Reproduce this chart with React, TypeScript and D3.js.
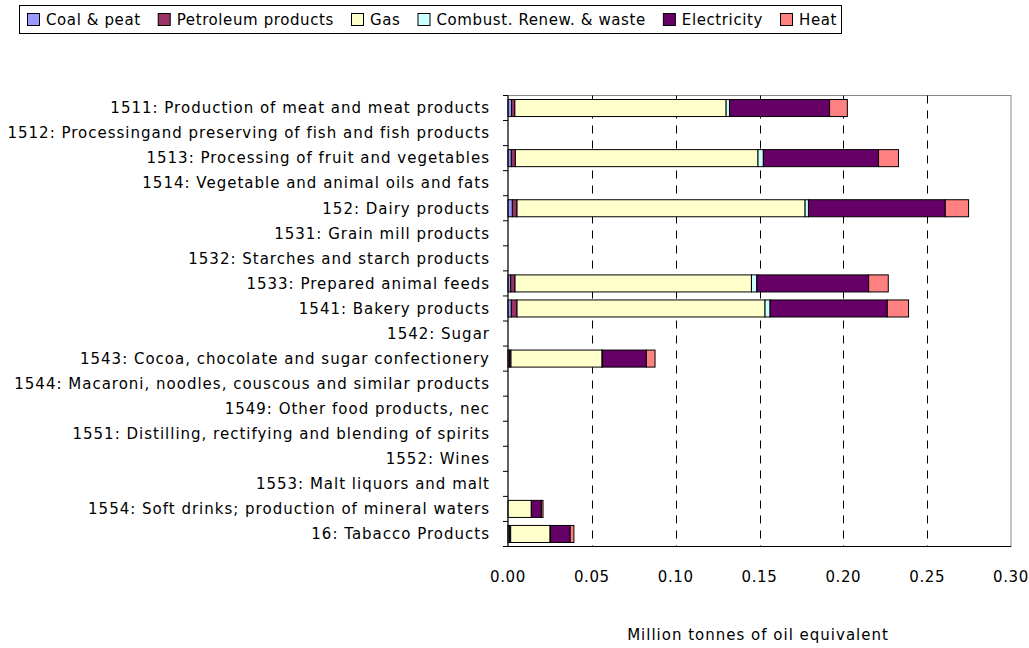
import { useEffect, useRef } from 'react'
import * as d3 from 'd3'

const categories = [
  '1511: Production of meat and meat products',
  '1512: Processingand preserving of fish and fish products',
  '1513: Processing of fruit and vegetables',
  '1514: Vegetable and animal oils and fats',
  '152: Dairy products',
  '1531: Grain mill products',
  '1532: Starches and starch products',
  '1533: Prepared animal feeds',
  '1541: Bakery products',
  '1542: Sugar',
  '1543: Cocoa, chocolate and sugar confectionery',
  '1544: Macaroni, noodles, couscous and similar products',
  '1549: Other food products, nec',
  '1551: Distilling, rectifying and blending of spirits',
  '1552: Wines',
  '1553: Malt liquors and malt',
  '1554: Soft drinks; production of mineral waters',
  '16: Tabacco Products',
]

const coal = [0.0021, 0, 0.002, 0, 0.0026, 0, 0, 0.0016, 0.002, 0, 0.0008, 0, 0, 0, 0, 0, 0, 0.0008]
const petroleum = [0.002, 0, 0.0024, 0, 0.0028, 0, 0, 0.0026, 0.0034, 0, 0.001, 0, 0, 0, 0, 0, 0, 0.0008]
const gas = [0.126, 0, 0.1447, 0, 0.1718, 0, 0, 0.141, 0.1479, 0, 0.0543, 0, 0, 0, 0, 0, 0.0139, 0.0235]
const combust = [0.002, 0, 0.0032, 0, 0.002, 0, 0, 0.0032, 0.003, 0, 0.0003, 0, 0, 0, 0, 0, 0, 0.0003]
const electricity = [0.0597, 0, 0.0687, 0, 0.0816, 0, 0, 0.0667, 0.0699, 0, 0.0261, 0, 0, 0, 0, 0, 0.006, 0.0117]
const heat = [0.0106, 0, 0.0119, 0, 0.0139, 0, 0, 0.0117, 0.0127, 0, 0.0052, 0, 0, 0, 0, 0, 0.001, 0.0022]

const seriesNames = ['Coal & peat', 'Petroleum products', 'Gas', 'Combust. Renew. & waste', 'Electricity', 'Heat']
const seriesColors = ['#9999FF', '#993366', '#FFFFCC', '#CCFFFF', '#660066', '#FF8080']
const xTicks = [0, 0.05, 0.1, 0.15, 0.2, 0.25, 0.3]

const FONT = '"DejaVu Sans", sans-serif'

export default function App() {
  const svgRef = useRef<SVGSVGElement>(null)

  useEffect(() => {
    if (!svgRef.current) return
    const svg = d3.select(svgRef.current)
    svg.selectAll('*').remove()

    const plot = { left: 508, right: 1011, top: 95.5, bottom: 546.5 }
    const series = [coal, petroleum, gas, combust, electricity, heat]

    const x = d3.scaleLinear().domain([0, 0.3]).range([plot.left, plot.right])
    const y = d3.scaleBand<string>().domain(categories).range([plot.top, plot.bottom]).paddingInner(0).paddingOuter(0)
    const barH = y.bandwidth() * 0.68

    // plot border
    svg.append('rect')
      .attr('x', plot.left).attr('y', plot.top)
      .attr('width', plot.right - plot.left).attr('height', plot.bottom - plot.top)
      .attr('fill', 'none').attr('stroke', '#888').attr('stroke-width', 1)

    // dashed gridlines
    svg.append('g')
      .selectAll('line')
      .data(xTicks.slice(1, -1))
      .enter()
      .append('line')
      .attr('x1', (d) => Math.round(x(d)) + 0.5)
      .attr('x2', (d) => Math.round(x(d)) + 0.5)
      .attr('y1', plot.top)
      .attr('y2', plot.bottom)
      .attr('stroke', '#000')
      .attr('stroke-dasharray', '8,7')

    // stacked bars
    const rows = categories.map((c, i) => {
      let acc = 0
      return series.map((s, k) => {
        const x0 = acc
        acc += s[i]
        return { cat: c, k, x0, x1: acc, v: s[i] }
      })
    })

    svg.append('g')
      .selectAll('rect')
      .data(rows.flat().filter((d) => d.v > 0))
      .enter()
      .append('rect')
      .attr('x', (d) => x(d.x0))
      .attr('y', (d) => (y(d.cat) as number) + (y.bandwidth() - barH) / 2)
      .attr('width', (d) => x(d.x1) - x(d.x0))
      .attr('height', barH)
      .attr('fill', (d) => seriesColors[d.k])
      .attr('stroke', '#000')
      .attr('stroke-width', 1)

    // axes lines
    svg.append('line')
      .attr('x1', plot.left).attr('x2', plot.left)
      .attr('y1', plot.top).attr('y2', plot.bottom)
      .attr('stroke', '#000')
    svg.append('line')
      .attr('x1', plot.left).attr('x2', plot.right)
      .attr('y1', plot.bottom).attr('y2', plot.bottom)
      .attr('stroke', '#000')

    // y ticks at band boundaries
    const bounds = categories.map((c) => y(c) as number).concat([plot.bottom])
    svg.append('g')
      .selectAll('line')
      .data(bounds)
      .enter()
      .append('line')
      .attr('x1', plot.left - 5).attr('x2', plot.left)
      .attr('y1', (d) => d).attr('y2', (d) => d)
      .attr('stroke', '#000')

    // y labels
    svg.append('g')
      .selectAll('text')
      .data(categories)
      .enter()
      .append('text')
      .attr('x', 490)
      .attr('y', (d) => (y(d) as number) + y.bandwidth() / 2)
      .attr('dy', '0.35em')
      .attr('text-anchor', 'end')
      .style('font-family', FONT)
      .style('font-size', '15px')
      .style('letter-spacing', '1px')
      .text((d) => d)

    // x tick labels
    svg.append('g')
      .selectAll('text')
      .data(xTicks)
      .enter()
      .append('text')
      .attr('x', (d) => x(d))
      .attr('y', 577)
      .attr('dy', '0.35em')
      .attr('text-anchor', 'middle')
      .style('font-family', FONT)
      .style('font-size', '15px')
      .style('letter-spacing', '0.6px')
      .text((d) => d3.format('.2f')(d))

    svg.append('text')
      .attr('x', 758)
      .attr('y', 635)
      .attr('dy', '0.35em')
      .attr('text-anchor', 'middle')
      .style('font-family', FONT)
      .style('font-size', '15px')
      .style('letter-spacing', '1px')
      .text('Million tonnes of oil equivalent')

    // legend
    const lg = svg.append('g')
    lg.append('rect')
      .attr('x', 19.5).attr('y', 5.5).attr('width', 822).attr('height', 28)
      .attr('fill', '#fff').attr('stroke', '#000')
    const texts = seriesNames.map((name) =>
      lg.append('text')
        .attr('y', 19.5)
        .attr('dy', '0.35em')
        .style('font-family', FONT)
        .style('font-size', '15px')
        .style('letter-spacing', '0.6px')
        .text(name)
    )
    const widths = texts.map((t) => (t.node() as SVGTextElement).getComputedTextLength())
    const gap = (842 - 5 - 27 - 6 * 19 - d3.sum(widths)) / 5
    let cx = 27
    texts.forEach((t, k) => {
      lg.append('rect')
        .attr('x', cx + 0.5).attr('y', 13.5).attr('width', 12).attr('height', 12)
        .attr('fill', seriesColors[k]).attr('stroke', '#000')
      t.attr('x', cx + 19)
      cx = cx + 19 + widths[k] + gap
    })
  }, [])

  return (
    <svg
      ref={svgRef}
      width={1029}
      height={648}
      style={{ position: 'absolute', left: 0, top: 0, background: '#fff' }}
    />
  )
}
